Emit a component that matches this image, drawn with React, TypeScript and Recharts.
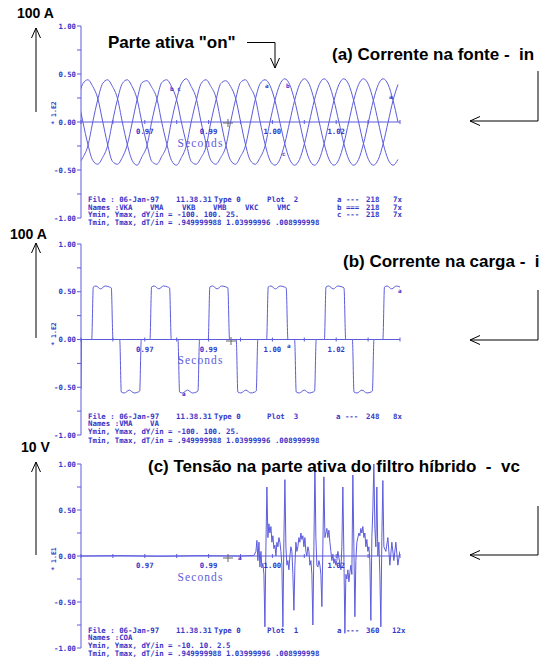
import React from "react";
import { LineChart, Line, XAxis, YAxis, ReferenceLine } from "recharts";

const W = 543;
const H = 659;
const PLOT_LEFT = 81;
const PLOT_RIGHT = 400;
const AXIS_BOX = 20;

const BLUE_TEXT = "#3636c8";
const BLUE_LINE = "#5c5cdc";
const MONO = "'DejaVu Sans Mono', 'Liberation Mono', monospace";
const SANS = "'Liberation Sans', Arial, sans-serif";

// time axis in ms (0.95 s .. 1.04 s), tick every dT/in = 9 ms
const X_TICKS = [950, 959, 968, 977, 986, 995, 1004, 1013, 1022, 1031, 1040];
const X_LABELED = [968, 986, 1004, 1022];
const Y_TICKS = [-1, -0.75, -0.5, -0.25, 0, 0.25, 0.5, 0.75, 1];

// (a) source current, three phases, sampled every 1/720 s
const SOURCE_START = 949.15;
const SOURCE_STEP = 1.3889;
const SOURCE_A = [
  0.23, 0.4, 0.44, 0.37, 0.25, 0.01, -0.23, -0.41, -0.44, -0.37, -0.24, -0.01,
  0.23, 0.41, 0.43, 0.36, 0.25, 0.0, -0.22, -0.4, -0.45, -0.37, -0.25, 0.0,
  0.22, 0.4, 0.44, 0.37, 0.26, 0.01, -0.23, -0.4, -0.44, -0.36, -0.25, -0.01,
  0.23, 0.4, 0.44, 0.38,
  0.225, 0, -0.225, -0.39, -0.45, -0.39, -0.225, 0, 0.225, 0.39, 0.45, 0.39,
  0.225, 0, -0.225, -0.39, -0.45, -0.39, -0.225, 0, 0.225, 0.39, 0.45, 0.39,
  0.225, 0,
];
const SOURCE_B = [
  -0.44, -0.37, -0.25, 0, 0.23, 0.4, 0.44, 0.37, 0.25, 0, -0.23, -0.4,
  -0.45, -0.36, -0.25, 0.01, 0.23, 0.41, 0.44, 0.37, 0.24, 0, -0.22, -0.41,
  -0.44, -0.37, -0.26, 0, 0.22, 0.4, 0.43, 0.37, 0.25, 0.01, -0.23, -0.4,
  -0.44, -0.37, -0.25, 0,
  0.225, 0.39, 0.45, 0.39, 0.225, 0, -0.225, -0.39, -0.45, -0.39, -0.225, 0,
  0.225, 0.39, 0.45, 0.39, 0.225, 0, -0.225, -0.39, -0.45, -0.39, -0.225, 0,
  0.225, 0.39,
];
const SOURCE_C = [
  0.25, 0, -0.23, -0.4, -0.44, -0.37, -0.25, 0, 0.23, 0.4, 0.44, 0.37,
  0.24, -0.01, -0.23, -0.41, -0.44, -0.36, -0.25, 0.01, 0.23, 0.4, 0.45, 0.37,
  0.25, 0, -0.22, -0.4, -0.44, -0.37, -0.26, 0, 0.23, 0.41, 0.44, 0.36,
  0.25, 0, -0.23, -0.4,
  -0.45, -0.39, -0.225, 0, 0.225, 0.39, 0.45, 0.39, 0.225, 0, -0.225, -0.39,
  -0.45, -0.39, -0.225, 0, 0.225, 0.39, 0.45, 0.39, 0.225, 0, -0.225, -0.39,
  -0.45, -0.39,
];

// (b) load current breakpoints (ms, value)
const LOAD_TIME = [
  950.0, 950.15,
  953.02, 953.47, 954.22, 955.52, 956.82, 958.02, 958.55, 959.03,
  960.92, 961.37, 962.22, 963.62, 965.02, 966.12, 966.56, 967.01,
  969.46, 969.91, 970.66, 971.96, 973.26, 974.46, 974.99, 975.47,
  977.36, 977.81, 978.66, 980.06, 981.46, 982.56, 983.0, 983.45,
  985.9, 986.35, 987.1, 988.4, 989.7, 990.9, 991.43, 991.91,
  993.8, 994.25, 995.1, 996.5, 997.9, 999.0, 999.44, 999.89,
  1002.37, 1002.82, 1003.57, 1004.87, 1006.17, 1007.37, 1007.9, 1008.38,
  1010.27, 1010.72, 1011.57, 1012.97, 1014.37, 1015.47, 1015.91, 1016.36,
  1018.67, 1019.12, 1019.87, 1021.17, 1022.47, 1023.67, 1024.2, 1024.68,
  1026.57, 1027.02, 1027.87, 1029.27, 1030.67, 1031.77, 1032.21, 1032.66,
  1035.17, 1035.62, 1036.37, 1037.67, 1038.97, 1040.0,
];
const LOAD_CURRENT = [
  -0.52, 0,
  0, 0.55, 0.56, 0.53, 0.56, 0.55, 0.54, 0,
  0, -0.55, -0.56, -0.53, -0.56, -0.55, -0.54, 0,
  0, 0.55, 0.56, 0.53, 0.56, 0.55, 0.54, 0,
  0, -0.55, -0.56, -0.53, -0.56, -0.55, -0.54, 0,
  0, 0.55, 0.56, 0.53, 0.56, 0.55, 0.54, 0,
  0, -0.55, -0.56, -0.53, -0.56, -0.55, -0.54, 0,
  0, 0.55, 0.56, 0.53, 0.56, 0.55, 0.54, 0,
  0, -0.55, -0.56, -0.53, -0.56, -0.55, -0.54, 0,
  0, 0.55, 0.56, 0.53, 0.56, 0.55, 0.54, 0,
  0, -0.55, -0.56, -0.53, -0.56, -0.55, -0.54, 0,
  0, 0.55, 0.56, 0.53, 0.56, 0.55,
];

// (c) active filter voltage (ms, value)
const VC_TIME = [
  950.0, 961.0, 972.28, 983.56, 994.84, 998.79,
  999.35, 999.63, 999.91, 1000.2, 1000.48, 1000.76, 1001.04, 1001.32, 1001.61, 1001.89,
  1002.17, 1002.45, 1002.73, 1003.02, 1003.3, 1003.58, 1003.86, 1004.14, 1004.43, 1004.71,
  1004.99, 1005.27, 1005.55, 1005.84, 1006.12, 1006.4, 1006.68, 1006.96, 1007.25, 1007.53,
  1007.81, 1008.09, 1008.37, 1008.66, 1008.94, 1009.22, 1009.5, 1009.78, 1010.07, 1010.35,
  1010.63, 1010.91, 1011.19, 1011.48, 1011.76, 1012.04, 1012.32, 1012.6, 1012.89, 1013.17,
  1013.45, 1013.73, 1014.01, 1014.3, 1014.58, 1014.86, 1015.14, 1015.42, 1015.71, 1015.99,
  1016.27, 1016.55, 1016.83, 1017.12, 1017.4, 1017.68, 1017.96, 1018.24, 1018.53, 1018.81,
  1019.09, 1019.37, 1019.65, 1019.94, 1020.22, 1020.5, 1020.78, 1021.06, 1021.35, 1021.63,
  1021.91, 1022.19, 1022.47, 1022.76, 1023.04, 1023.32, 1023.6, 1023.88, 1024.17, 1024.45,
  1024.73, 1025.01, 1025.29, 1025.58, 1025.86, 1026.14, 1026.42, 1026.7, 1026.99, 1027.27,
  1027.55, 1027.83, 1028.11, 1028.4, 1028.68, 1028.96, 1029.24, 1029.52, 1029.81, 1030.09,
  1030.37, 1030.65, 1030.93, 1031.22, 1031.5, 1031.78, 1032.06, 1032.34, 1032.63, 1032.91,
  1033.19, 1033.47, 1033.75, 1034.04, 1034.32, 1034.6, 1034.88, 1035.16, 1035.45,
  1036.01, 1036.58, 1037.14, 1037.7, 1038.27, 1038.83, 1039.4, 1039.96,
];
const VC_VALUE = [
  0, 0.004, -0.003, 0.004, 0, 0.005,
  0.05, 0.17, -0.05, 0.15, -0.12, 0.05, -0.13, -0.08, -0.2, -0.77,
  0.1, 0.75, 0.2, 0.35, 0.25, 0.32, 0.15, 0.22, 0.08, 0.12,
  0.0, 0.15, 0.1, 0.2, 0.15, 0.05, -0.1, -0.77, 0.2, 0.83,
  0.1, -0.1, -0.05, -0.15, 0.0, 0.1, 0.05, -0.2, -0.59, -0.1,
  0.15, 0.05, 0.1, 0.2, 0.15, 0.25, 0.18, 0.22, 0.1, 0.2,
  0.05, 0.0, 0.1, 0.05, -0.1, -0.05, -0.2, -0.75, 0.1, 1.0,
  0.2, -0.1, -0.12, -0.05, -0.1, -0.2, -0.55, 0.1, 0.86, 0.2,
  0.25, 0.3, 0.2, 0.28, 0.15, 0.05, -0.05, 0.02, -0.08, -0.03,
  -0.1, -0.05, 0.05, -0.02, -0.08, -0.15, 0.1, 0.75, 0.0, -0.84,
  -0.2, -0.25, -0.15, -0.28, -0.18, -0.1, -0.2, 0.88, 0.1, -0.66,
  -0.05, 0.15, 0.2, 0.25, 0.22, 0.3, 0.25, 0.32, 0.2, 0.25,
  0.1, 0.18, 0.05, 0.1, -0.05, -0.7, 0.2, 0.5, 1.02, 0.3,
  0.1, 0.75, 0.0, 0.15, -0.2, -0.77, 0.2, 0.82, 0.1,
  0.05, 0.2, -0.1, 0.15, -0.05, 0.15, -0.1, 0.05,
];

const sourceData = SOURCE_A.map((a, i) => ({
  t: SOURCE_START + i * SOURCE_STEP,
  a,
  b: SOURCE_B[i],
  c: SOURCE_C[i],
}));
const loadData = LOAD_TIME.map((t, i) => ({ t, a: LOAD_CURRENT[i] }));
const vcData = VC_TIME.map((t, i) => ({ t, a: VC_VALUE[i] }));

function YTick(props: any) {
  const { x, y, payload } = props;
  const v = payload.value;
  const major = Math.abs(v * 2 - Math.round(v * 2)) < 1e-6;
  return (
    <g>
      <line x1={x - 4} x2={x} y1={y} y2={y} stroke={BLUE_LINE} />
      {major && (
        <text
          x={x - 5}
          y={y + 2.6}
          textAnchor="end"
          fontFamily={MONO}
          fontWeight="bold"
          fontSize={7.3}
          fill={BLUE_TEXT}
        >
          {v.toFixed(2)}
        </text>
      )}
    </g>
  );
}

function XTick(props: any) {
  const { x, payload, zeroY } = props;
  const v = payload.value;
  return (
    <g>
      <line x1={x} x2={x} y1={zeroY - 2} y2={zeroY + 2} stroke={BLUE_LINE} />
      {X_LABELED.includes(v) && (
        <text
          x={x}
          y={zeroY + 12}
          textAnchor="middle"
          fontFamily={MONO}
          fontWeight="bold"
          fontSize={7.3}
          fill={BLUE_TEXT}
        >
          {(v / 1000).toFixed(2)}
        </text>
      )}
    </g>
  );
}

function Panel({ data, keys, top, bottom, curve }: any) {
  const zeroY = (top + bottom) / 2;
  return (
    <div style={{ position: "absolute", left: 0, top: 0 }}>
      <LineChart
        width={W}
        height={H}
        data={data}
        margin={{
          top,
          bottom: H - bottom - AXIS_BOX,
          left: PLOT_LEFT - AXIS_BOX,
          right: W - PLOT_RIGHT,
        }}
      >
        <XAxis
          type="number"
          dataKey="t"
          domain={[950, 1040]}
          ticks={X_TICKS}
          allowDataOverflow
          height={AXIS_BOX}
          axisLine={false}
          tickLine={false}
          tickSize={0}
          tickMargin={0}
          interval={0}
          tick={(p: any) => <XTick {...p} zeroY={zeroY} />}
        />
        <YAxis
          type="number"
          domain={[-1, 1]}
          ticks={Y_TICKS}
          allowDataOverflow
          width={AXIS_BOX}
          axisLine={{ stroke: BLUE_LINE }}
          tickLine={false}
          tickSize={0}
          tickMargin={0}
          interval={0}
          tick={(p: any) => <YTick {...p} />}
        />
        <ReferenceLine y={0} stroke={BLUE_LINE} />
        {keys.map((k: string) => (
          <Line
            key={k}
            dataKey={k}
            type={curve}
            stroke={BLUE_LINE}
            strokeWidth={1}
            dot={false}
            isAnimationActive={false}
          />
        ))}
      </LineChart>
    </div>
  );
}

function Info({ x, y, text }: { x: number; y: number; text: string }) {
  return (
    <text
      x={x}
      y={y + 2.7}
      fontFamily={MONO}
      fontWeight="bold"
      fontSize={7.4}
      fill={BLUE_TEXT}
      style={{ whiteSpace: "pre" }}
    >
      {text}
    </text>
  );
}

function Title({ x, y, size, text }: { x: number; y: number; size: number; text: string }) {
  return (
    <text
      x={x}
      y={y}
      fontFamily={SANS}
      fontWeight="bold"
      fontSize={size}
      fill="#000"
      style={{ whiteSpace: "pre" }}
    >
      {text}
    </text>
  );
}

function UpArrow({ x, y1, y2 }: { x: number; y1: number; y2: number }) {
  return (
    <g stroke="#000" fill="none" strokeWidth={1}>
      <line x1={x} x2={x} y1={y2} y2={y1} />
      <polyline points={`${x - 4.5},${y1 + 10} ${x},${y1} ${x + 4.5},${y1 + 10}`} />
    </g>
  );
}

function SideArrow({ top, corner }: { top: number; corner: number }) {
  return (
    <g stroke="#000" fill="none" strokeWidth={1}>
      <polyline points={`538,${top} 538,${corner} 470,${corner}`} />
      <polyline points={`480,${corner - 4.5} 470,${corner} 480,${corner + 4.5}`} />
    </g>
  );
}

function Seconds({ zeroY }: { zeroY: number }) {
  return (
    <text
      x={200.5}
      y={zeroY + 24.5}
      textAnchor="middle"
      fontFamily="'Liberation Serif', 'DejaVu Serif', serif"
      fontSize={11.5}
      letterSpacing={1.1}
      fill={BLUE_LINE}
    >
      Seconds
    </text>
  );
}

function Scale({ y, text }: { y: number; text: string }) {
  return (
    <text
      x={53}
      y={y}
      dy={2.5}
      transform={`rotate(-90, 53, ${y})`}
      textAnchor="middle"
      fontFamily={MONO}
      fontWeight="bold"
      fontSize={6.5}
      fill={BLUE_TEXT}
    >
      {text}
    </text>
  );
}

function Cross({ x, y }: { x: number; y: number }) {
  return (
    <g stroke="#666" strokeWidth={1}>
      <line x1={x - 5} x2={x + 5} y1={y} y2={y} />
      <line x1={x} x2={x} y1={y - 4} y2={y + 4} />
    </g>
  );
}

function Mark({ x, y, t }: { x: number; y: number; t: string }) {
  return (
    <text x={x} y={y} fontFamily={MONO} fontWeight="bold" fontSize={6} fill={BLUE_TEXT}>
      {t}
    </text>
  );
}

export default function App() {
  return (
    <div
      style={{
        position: "absolute",
        left: 0,
        top: 0,
        width: W,
        height: H,
        background: "#fff",
        overflow: "hidden",
      }}
    >
      <Panel data={sourceData} keys={["a", "b", "c"]} top={26} bottom={218} curve="monotone" />
      <Panel data={loadData} keys={["a"]} top={244} bottom={435} curve="monotone" />
      <Panel data={vcData} keys={["a"]} top={464} bottom={648} curve="linear" />

      <svg
        width={W}
        height={H}
        style={{ position: "absolute", left: 0, top: 0, overflow: "visible" }}
      >
        {/* panel (a) */}
        <Title x={17} y={17.5} size={14} text="100 A" />
        <UpArrow x={36} y1={28} y2={112} />
        <Title x={108} y={48} size={17} text={'Parte ativa "on"'} />
        <g stroke="#000" fill="none">
          <polyline points="247,42.5 275,42.5 275,68" />
          <polyline points="270.5,58 275,68 279.5,58" />
        </g>
        <Title x={332} y={59.5} size={17} text="(a) Corrente na fonte -  in" />
        <SideArrow top={71} corner={121} />
        <Seconds zeroY={122} />
        <Scale y={113} text="* 1.E2" />
        <Cross x={228} y={123} />
        <Mark x={170} y={91} t="b c" />
        <Mark x={265} y={88} t="a" />
        <Mark x={286} y={88} t="b" />
        <Mark x={389} y={99} t="a" />
        <Mark x={282} y={156} t="c" />
        <Info x={88} y={199} text="File : 06-Jan-97" />
        <Info x={176} y={199} text="11.38.31" />
        <Info x={214} y={199} text="Type 0" />
        <Info x={267} y={199} text="Plot  2" />
        <Info x={337} y={199} text="a ---" />
        <Info x={366} y={199} text="218" />
        <Info x={393} y={199} text="7x" />
        <Info x={88} y={207} text="Names :VKA" />
        <Info x={150} y={207} text="VMA" />
        <Info x={182} y={207} text="VKB" />
        <Info x={213} y={207} text="VMB" />
        <Info x={245} y={207} text="VKC" />
        <Info x={277} y={207} text="VMC" />
        <Info x={337} y={207} text="b ===" />
        <Info x={366} y={207} text="218" />
        <Info x={393} y={207} text="7x" />
        <Info x={88} y={214.5} text="Ymin, Ymax, dY/in = -100. 100. 25." />
        <Info x={337} y={214.5} text="c ---" />
        <Info x={366} y={214.5} text="218" />
        <Info x={393} y={214.5} text="7x" />
        <Info x={88} y={222.5} text="Tmin, Tmax, dT/in = .949999988 1.03999996 .008999998" />

        {/* panel (b) */}
        <Title x={10} y={238.5} size={14} text="100 A" />
        <UpArrow x={36} y1={243} y2={338} />
        <Title x={343} y={267} size={17} text="(b) Corrente na carga -  i" />
        <SideArrow top={290} corner={340} />
        <Seconds zeroY={339.5} />
        <Scale y={334} text="* 1.E2" />
        <Cross x={231} y={341} />
        <Mark x={398} y={293} t="a" />
        <Mark x={287} y={348} t="a" />
        <Mark x={182} y={396} t="a" />
        <Info x={88} y={416} text="File : 06-Jan-97" />
        <Info x={176} y={416} text="11.38.31" />
        <Info x={214} y={416} text="Type 0" />
        <Info x={267} y={416} text="Plot  3" />
        <Info x={336} y={416} text="a ---" />
        <Info x={366} y={416} text="248" />
        <Info x={393} y={416} text="8x" />
        <Info x={88} y={423.5} text="Names :VMA" />
        <Info x={150} y={423.5} text="VA" />
        <Info x={88} y={431.7} text="Ymin, Ymax, dY/in = -100. 100. 25." />
        <Info x={88} y={440} text="Tmin, Tmax, dT/in = .949999988 1.03999996 .008999998" />

        {/* panel (c) */}
        <Title x={21} y={452} size={14} text="10 V" />
        <UpArrow x={36} y1={462} y2={555} />
        <Title x={148} y={471.5} size={17} text="(c) Tensão na parte ativa do filtro híbrido  -  vc" />
        <SideArrow top={506} corner={555} />
        <Seconds zeroY={556} />
        <Scale y={559} text="* 1.E1" />
        <Cross x={228} y={558} />
        <Mark x={238} y={560} t="a" />
        <Info x={88} y={630} text="File : 06-Jan-97" />
        <Info x={176} y={630} text="11.38.31" />
        <Info x={214} y={630} text="Type 0" />
        <Info x={267} y={630} text="Plot  1" />
        <Info x={337} y={630} text="a ---" />
        <Info x={366} y={630} text="360" />
        <Info x={392} y={630} text="12x" />
        <Info x={88} y={637.7} text="Names :COA" />
        <Info x={88} y={645.3} text="Ymin, Ymax, dY/in = -10. 10. 2.5" />
        <Info x={88} y={653.3} text="Tmin, Tmax, dT/in = .949999988 1.03999996 .008999998" />
      </svg>
    </div>
  );
}
